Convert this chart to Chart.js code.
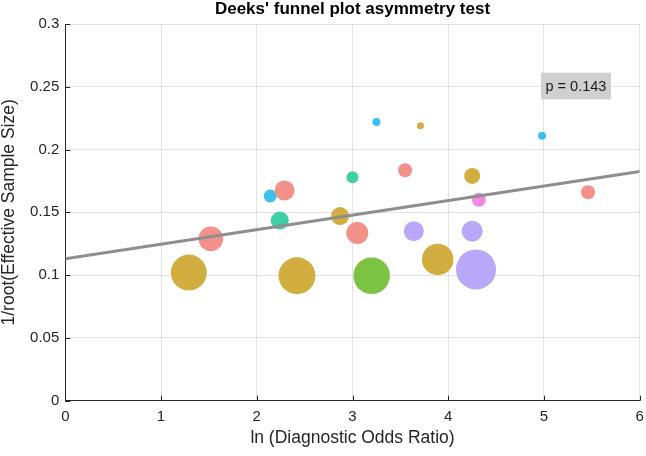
<!DOCTYPE html>
<html>
<head>
<meta charset="utf-8">
<script src="https://cdn.jsdelivr.net/npm/chart.js@4.4.1/dist/chart.umd.min.js"></script>
<style>
html,body{margin:0;padding:0;background:#fff;}
#wrap{width:646px;height:456px;position:relative;}
</style>
</head>
<body>
<div id="wrap"><canvas id="c" width="646" height="456"></canvas></div>
<script>
// Study points: ln(DOR), 1/root(ESS), bubble weight (radius), group colour
const lnDOR = [1.29, 1.52, 2.14, 2.29, 2.24, 2.42, 3.25, 3.71, 4.98, 3.00, 3.55, 4.25, 5.46, 4.32, 2.87, 3.05, 3.64, 4.25, 3.20, 3.89, 4.29];
const invRootESS = [0.102, 0.129, 0.163, 0.1675, 0.1435, 0.0995, 0.222, 0.219, 0.211, 0.178, 0.1835, 0.179, 0.166, 0.160, 0.147, 0.1335, 0.135, 0.135, 0.0995, 0.1125, 0.1045];
const weights = [18, 12.3, 6.5, 10, 9, 18.5, 4, 3.5, 4, 6, 7, 8, 7, 7, 9, 11, 10, 10.5, 18.3, 15.7, 20];
const groups = ['gold','pink','blue','pink','teal','gold','blue','gold','blue','teal','pink','gold','pink','magenta','gold','pink','purple','purple','green','gold','purple'];
const groupColors = {gold:'#D2AE40', pink:'#F2908A', blue:'#3CBFEB', teal:'#3ECFA4', green:'#7CC243', purple:'#B9A7F7', magenta:'#F588E2'};
// Regression line endpoints (x, y)
const fitX = [0, 6];
const fitY = [0.113, 0.1826];
const xTicks = [0, 1, 2, 3, 4, 5, 6];
const yTicks = [0, 0.05, 0.1, 0.15, 0.2, 0.25, 0.3];
const pLabel = 'p = 0.143';
const pPos = {x: 5.334, y: 0.2506};

const FONT = '"Liberation Sans", Arial, Helvetica, sans-serif';
const TXT = '#262626';

const bubbles = lnDOR.map((x, i) => ({x: x, y: invRootESS[i], r: weights[i]}));
const fitLine = fitX.map((x, i) => ({x: x, y: fitY[i]}));

const innerTicks = {
  id: 'innerTicks',
  afterDatasetsDraw(chart) {
    const ctx = chart.ctx, xs = chart.scales.x, ys = chart.scales.y, a = chart.chartArea;
    ctx.save();
    ctx.strokeStyle = TXT;
    ctx.lineWidth = 1;
    ctx.beginPath();
    xTicks.forEach(v => { const p = Math.round(xs.getPixelForValue(v)) + 0.5; ctx.moveTo(p, a.bottom); ctx.lineTo(p, a.bottom - 5); });
    yTicks.forEach(v => { const p = Math.round(ys.getPixelForValue(v)) + 0.5; ctx.moveTo(a.left, p); ctx.lineTo(a.left + 5, p); });
    ctx.stroke();
    // p-value label box
    const cx = xs.getPixelForValue(pPos.x), cy = ys.getPixelForValue(pPos.y);
    const w = 70, h = 26.6;
    ctx.fillStyle = '#D0D0D0';
    ctx.fillRect(cx - w / 2, cy - h / 2, w, h);
    ctx.fillStyle = '#1a1a1a';
    ctx.font = '14.5px ' + FONT;
    ctx.textAlign = 'center';
    ctx.textBaseline = 'middle';
    ctx.fillText(pLabel, cx, cy + 1);
    ctx.restore();
  }
};

new Chart(document.getElementById('c'), {
  data: {
    datasets: [
      {
        type: 'line',
        data: fitLine,
        borderColor: '#8E8E8E',
        borderWidth: 3,
        pointRadius: 0,
        fill: false,
        order: 0
      },
      {
        type: 'bubble',
        data: bubbles,
        backgroundColor: groups.map(g => groupColors[g]),
        borderWidth: 0,
        order: 1
      }
    ]
  },
  options: {
    responsive: false,
    animation: false,
    layout: {autoPadding: false, padding: {left: 0, right: 6.3, top: 0, bottom: 0}},
    plugins: {
      legend: {display: false},
      tooltip: {enabled: false},
      title: {
        display: true,
        fullSize: false,
        text: "Deeks' funnel plot asymmetry test",
        color: '#000',
        font: {family: FONT, size: 17, weight: 'bold', lineHeight: 1},
        padding: {top: 0.5, bottom: 6.5}
      }
    },
    scales: {
      x: {
        type: 'linear',
        min: 0, max: 6,
        afterFit(s) { s.height = 55.3; s.paddingLeft = 0; s.paddingRight = 0; },
        afterBuildTicks(s) { s.ticks = xTicks.map(v => ({value: v})); },
        grid: {color: '#E3E3E3', drawTicks: false, lineWidth: 1},
        border: {color: TXT, width: 1},
        ticks: {color: TXT, font: {family: FONT, size: 15}, padding: 7, maxRotation: 0},
        title: {display: true, text: 'ln (Diagnostic Odds Ratio)', color: TXT, font: {family: FONT, size: 17.5, lineHeight: 1.2}, padding: {top: 0, bottom: 7}}
      },
      y: {
        type: 'linear',
        min: 0, max: 0.3,
        afterFit(s) { s.width = 65.3; s.paddingTop = 0; s.paddingBottom = 0; },
        afterBuildTicks(s) { s.ticks = yTicks.map(v => ({value: v})); },
        grid: {color: '#E3E3E3', drawTicks: false, lineWidth: 1},
        border: {color: TXT, width: 1},
        ticks: {color: TXT, font: {family: FONT, size: 15}, padding: 6, callback: v => String(+v.toFixed(2))},
        title: {display: true, text: '1/root(Effective Sample Size)', color: TXT, font: {family: FONT, size: 17.5, lineHeight: 1}, padding: {top: 0, bottom: 0}}
      }
    }
  },
  plugins: [innerTicks]
});
</script>
</body>
</html>
